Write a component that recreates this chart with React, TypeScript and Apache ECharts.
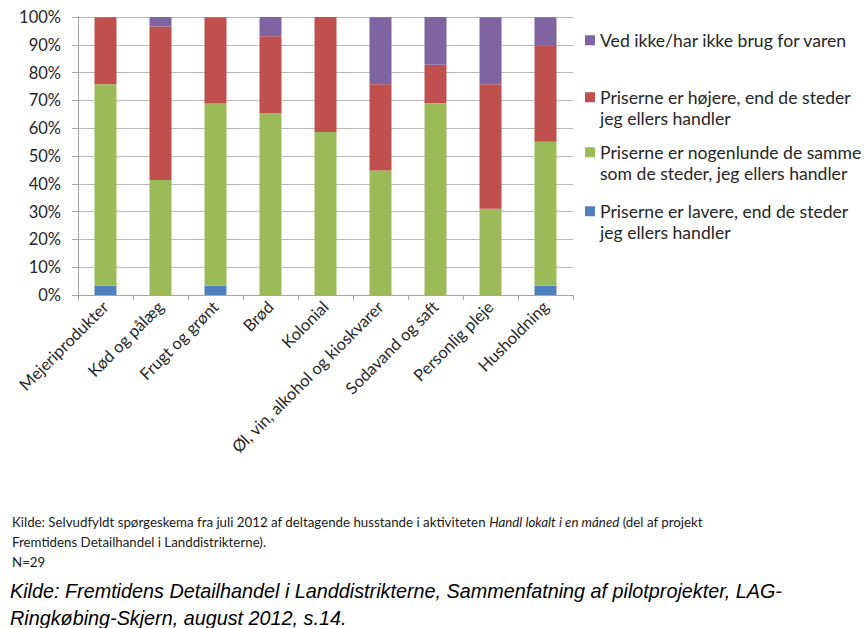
import React, { useEffect, useRef } from "react";
import * as echarts from "echarts";

const categories = [
  "Mejeriprodukter",
  "Kød og pålæg",
  "Frugt og grønt",
  "Brød",
  "Kolonial",
  "Øl, vin, alkohol og kioskvarer",
  "Sodavand og saft",
  "Personlig pleje",
  "Husholdning",
];
const lavere = [3.4, 0, 3.4, 0, 0, 0, 0, 0, 3.4];
const samme = [72.4, 41.4, 65.5, 65.5, 58.6, 44.8, 69.0, 31.0, 51.7];
const hojere = [24.1, 55.2, 31.0, 27.6, 41.4, 31.0, 13.8, 44.8, 34.5];
const vedIkke = [0, 3.4, 0, 6.9, 0, 24.1, 17.2, 24.1, 10.3];

const nameLavere = "Priserne er lavere, end de steder\njeg ellers handler";
const nameSamme = "Priserne er nogenlunde de samme\nsom de steder, jeg ellers handler";
const nameHojere = "Priserne er højere, end de steder\njeg ellers handler";
const nameVedIkke = "Ved ikke/har ikke brug for varen";

const yTicks = [0, 10, 20, 30, 40, 50, 60, 70, 80, 90, 100];

const FONT = "Lato, 'Open Sans', sans-serif";

export default function App() {
  const ref = useRef<HTMLDivElement>(null);
  useEffect(() => {
    document.body.style.margin = "0";
    const chart = echarts.init(ref.current!, null, { renderer: "svg" });
    const legendText = { fontFamily: FONT, fontSize: 17.6, color: "#262626", lineHeight: 21.5 };
    const mkLegend = (name: string, top: number, twoLine: boolean) => ({
      orient: "vertical",
      left: 580,
      top,
      padding: 5,
      icon: "rect",
      itemWidth: 10,
      itemHeight: 10,
      selectedMode: false,
      textStyle: legendText,
      // a leading empty line puts the marker level with the first line of a two-line label
      formatter: (n: string) => (twoLine ? "\n" + n : n),
      data: [name],
    });
    chart.setOption({
      animation: false,
      backgroundColor: "#ffffff",
      grid: { left: 78, right: 292, top: 17, bottom: 333, containLabel: false },
      legend: [
        mkLegend(nameVedIkke, 24.5, false),
        mkLegend(nameHojere, 60, true),
        mkLegend(nameSamme, 115, true),
        mkLegend(nameLavere, 174, true),
      ],
      xAxis: {
        type: "category",
        data: categories,
        axisLine: { show: true, lineStyle: { color: "#a6a6a6", width: 1 } },
        axisTick: { show: true, length: 5, interval: 0, lineStyle: { color: "#a6a6a6" } },
        axisLabel: {
          interval: 0,
          rotate: 45,
          margin: 9,
          fontFamily: FONT,
          fontSize: 16.5,
          color: "#262626",
        },
      },
      yAxis: {
        type: "value",
        min: 0,
        max: 100,
        interval: 10,
        axisLine: { show: true, lineStyle: { color: "#a6a6a6", width: 1 } },
        axisTick: { show: true, length: 6, lineStyle: { color: "#a6a6a6" } },
        splitLine: { show: true, lineStyle: { color: "#b8b8b8", width: 1 } },
        axisLabel: {
          formatter: (v: number) => (yTicks.includes(v) ? v + "%" : ""),
          fontFamily: FONT,
          fontSize: 16.5,
          color: "#262626",
          margin: 17,
        },
      },
      series: [
        { name: nameLavere, data: lavere, color: "#4F81BD" },
        { name: nameSamme, data: samme, color: "#9BBB59" },
        { name: nameHojere, data: hojere, color: "#C0504D" },
        { name: nameVedIkke, data: vedIkke, color: "#8064A2" },
      ].map((s) => ({
        type: "bar",
        stack: "total",
        barWidth: "40%",
        name: s.name,
        data: s.data,
        itemStyle: { color: s.color },
      })),
      graphic: [
        {
          type: "text",
          left: 12,
          top: 512,
          style: {
            text:
              "Kilde: Selvudfyldt spørgeskema fra juli 2012 af deltagende husstande i aktiviteten {i|Handl lokalt i en måned} (del af projekt\nFremtidens Detailhandel i Landdistrikterne).\nN=29",
            fontFamily: FONT,
            fontSize: 13.3,
            lineHeight: 20,
            fill: "#1a1a1a",
            rich: {
              i: { fontFamily: FONT, fontSize: 13.3, fontStyle: "italic", lineHeight: 20, fill: "#1a1a1a" },
            },
          },
        },
        {
          type: "text",
          left: 10,
          top: 577,
          style: {
            text:
              "Kilde: Fremtidens Detailhandel i Landdistrikterne, Sammenfatning af pilotprojekter, LAG-\nRingkøbing-Skjern, august 2012, s.14.",
            fontFamily: "'Liberation Sans Narrow', 'Arial Narrow', sans-serif",
            fontStyle: "italic",
            fontSize: 19.8,
            lineHeight: 27,
            fill: "#000000",
          },
        },
      ],
    });
    return () => chart.dispose();
  }, []);
  return <div ref={ref} style={{ width: 865, height: 628 }} />;
}
